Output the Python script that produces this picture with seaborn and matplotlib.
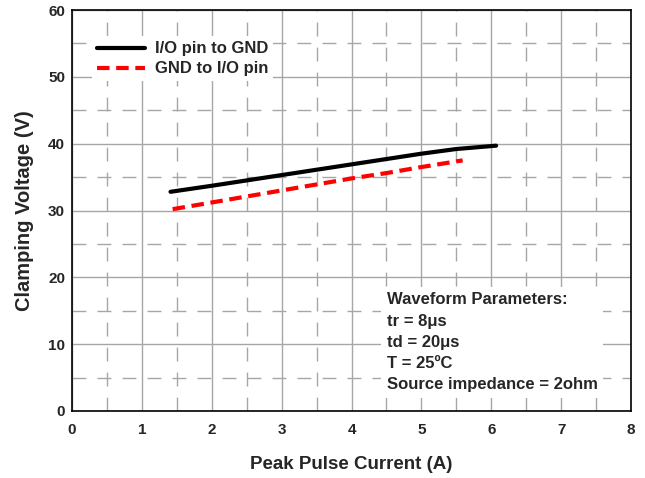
import numpy as np
import matplotlib
matplotlib.use("Agg")
import matplotlib.pyplot as plt
import seaborn as sns
import pandas as pd
from matplotlib.ticker import MultipleLocator

sns.set_style("white")
plt.rcParams['font.family'] = ['Liberation Sans', 'DejaVu Sans']
plt.rcParams['font.weight'] = 'bold'

# I/O pin to GND
io_x = [1.41, 2.0, 2.5, 3.0, 3.5, 4.0, 4.5, 5.0, 5.5, 6.07]
io_v = [32.8, 33.7, 34.5, 35.3, 36.1, 36.9, 37.7, 38.5, 39.2, 39.7]
# GND to I/O pin
gnd_x = [1.44, 2.0, 2.5, 3.0, 3.5, 4.0, 4.5, 5.0, 5.59]
gnd_v = [30.2, 31.2, 32.1, 33.0, 33.9, 34.8, 35.6, 36.5, 37.5]

df = pd.concat([
    pd.DataFrame({"I": io_x, "V": io_v, "dir": "I/O pin to GND"}),
    pd.DataFrame({"I": gnd_x, "V": gnd_v, "dir": "GND to I/O pin"}),
])

fig = plt.figure(figsize=(6.45, 4.78), dpi=100)
ax = fig.add_axes([72/645, 1-411/478, (631-72)/645, (411-10)/478])

sns.lineplot(data=df, x="I", y="V", hue="dir", style="dir",
             palette={"I/O pin to GND": "black", "GND to I/O pin": "red"},
             dashes={"I/O pin to GND": "", "GND to I/O pin": (3, 1.6)},
             linewidth=3, ax=ax, zorder=3)

ax.set_xlim(0, 8)
ax.set_ylim(0, 60)
ax.xaxis.set_major_locator(MultipleLocator(1))
ax.xaxis.set_minor_locator(MultipleLocator(0.5))
ax.yaxis.set_major_locator(MultipleLocator(10))
ax.yaxis.set_minor_locator(MultipleLocator(5))
ax.grid(which='major', color='#a6a6a6', linewidth=1, linestyle='-')
ax.grid(which='minor', color='#a6a6a6', linewidth=1, linestyle=(0, (10, 8)))
ax.tick_params(which='both', direction='in', length=5, width=1, color='black',
               labelsize=11)
ax.tick_params(axis='x', pad=9)
ax.tick_params(axis='y', pad=5)
for s in ax.spines.values():
    s.set_color('black')
    s.set_linewidth(1.2)
    s.set_zorder(5)

ax.set_xlabel("Peak Pulse Current (A)", fontsize=13.5, fontweight='bold', labelpad=13)
ax.set_ylabel("Clamping Voltage (V)", fontsize=14.5, fontweight='bold', labelpad=10)
for lab in ax.get_xticklabels() + ax.get_yticklabels():
    lab.set_fontweight('bold')

leg = ax.legend(loc='upper left', bbox_to_anchor=(0.02, 0.955), frameon=True,
                fancybox=False, edgecolor='white', framealpha=1,
                prop={'weight': 'bold', 'size': 12}, handlelength=2.9,
                borderpad=0.3, labelspacing=0.3, handletextpad=0.6)
leg.get_frame().set_linewidth(0)

ax.text(0.563, 0.296, "Waveform Parameters:\ntr = 8\u03bcs\ntd = 20\u03bcs\nT = 25\u00baC\nSource impedance = 2ohm",
        transform=ax.transAxes, fontsize=12, fontweight='bold', va='top', ha='left',
        linespacing=1.52, zorder=4,
        bbox=dict(facecolor='white', edgecolor='none', pad=4))

fig.savefig("out.png", dpi=100)
